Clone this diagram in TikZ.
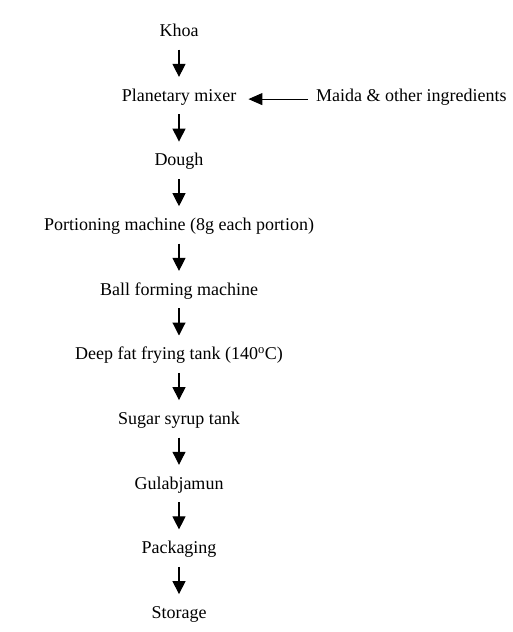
\documentclass[tikz,border=0pt]{standalone}
\usepackage{fontspec}
\setmainfont{Liberation Serif}
\usetikzlibrary{arrows.meta}
\begin{document}
\begin{tikzpicture}[x=1pt,y=-1pt,
  stagebox/.style={inner sep=0pt, anchor=base, text height=12pt, text depth=4pt,
    font=\fontsize{18}{20}\selectfont},
  flowarrow/.style={-{Triangle[width=13pt,length=13pt]}, line width=1.1pt,
    shorten <=9pt, shorten >=12pt}
]
\useasboundingbox (0,0) rectangle (513,632);
\node[stagebox] (khoa) at (179,36.5) {Khoa};
\node[stagebox] (mixer) at (179,101.1) {Planetary mixer};
\node[stagebox] (dough) at (179,165.8) {Dough};
\node[stagebox] (portion) at (179,230.4) {Portioning machine (8g each portion)};
\node[stagebox] (ball) at (179,295.1) {Ball forming machine};
\node[stagebox] (fry) at (179,359.7) {Deep fat frying tank (140\textsuperscript{o}C)};
\node[stagebox] (syrup) at (179,424.3) {Sugar syrup tank};
\node[stagebox] (gulab) at (179,489.0) {Gulabjamun};
\node[stagebox] (pack) at (179,553.6) {Packaging};
\node[stagebox] (store) at (179,618.3) {Storage};
\node[stagebox, anchor=base west] (maida) at (316,101.1) {Maida \& other ingredients};
\draw[flowarrow] (khoa.south) -- (mixer.north);
\draw[flowarrow] (mixer.south) -- (dough.north);
\draw[flowarrow] (dough.south) -- (portion.north);
\draw[flowarrow] (portion.south) -- (ball.north);
\draw[flowarrow] (ball.south) -- (fry.north);
\draw[flowarrow] (fry.south) -- (syrup.north);
\draw[flowarrow] (syrup.south) -- (gulab.north);
\draw[flowarrow] (gulab.south) -- (pack.north);
\draw[flowarrow] (pack.south) -- (store.north);
\draw[-{Triangle[width=12pt,length=14pt]}, line width=1.1pt, shorten <=8pt, shorten >=12pt]
  ([yshift=-2pt]maida.west) -- ([yshift=-2pt]mixer.east);
\end{tikzpicture}
\end{document}
